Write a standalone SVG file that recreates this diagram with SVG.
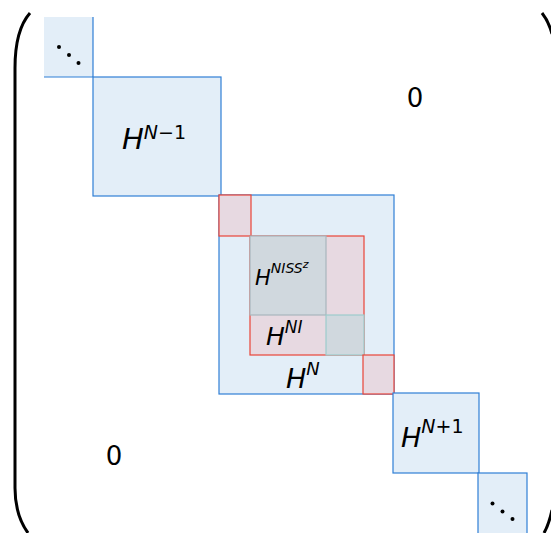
<svg xmlns="http://www.w3.org/2000/svg" width="551" height="533" viewBox="0 0 551 533">
<style>
.blk{fill:#e3eef8;stroke:#2f7fd6;stroke-width:1.2}
.red{fill:#e7d9e1;stroke:#ea4438;stroke-width:1.2}
.gry{fill:#d0d8de;stroke:#a8b6bc;stroke-width:1.2}
.m{font-family:"DejaVu Sans",sans-serif;font-style:italic;fill:#000}
.u{font-family:"DejaVu Sans",sans-serif;font-style:normal}
.z{font-family:"DejaVu Sans",sans-serif;font-size:26px;fill:#000}
.br{fill:none;stroke:#000;stroke-width:3}
</style>
<g id="brackets">
<path class="br" d="M 30 13 Q 15 30 15 68 L 15 488 Q 15 515 28 533"/>
<path class="br" d="M 542 13 Q 549 22 552 34"/>
<path class="br" d="M 544 533 Q 549 524 552 510"/>
</g>
<g id="dots-top">
<rect x="44" y="17" width="49" height="60" fill="#e3eef8"/>
<path d="M 93 17 V 77 H 44" fill="none" stroke="#2f7fd6" stroke-width="1.2"/>
<circle cx="59" cy="47" r="2"/><circle cx="69" cy="55" r="2"/><circle cx="78.5" cy="63" r="2"/>
</g>
<g id="HNm1">
<rect class="blk" x="93" y="77" width="128" height="119"/>
<text class="m" x="122" y="149" font-size="29">H<tspan font-size="19" dy="-10">N</tspan><tspan class="u" font-size="19">−1</tspan></text>
</g>
<g id="HN">
<rect class="blk" x="219" y="195" width="175" height="199"/>
<rect class="red" x="219" y="195" width="32" height="41"/>
<rect class="red" x="250" y="236" width="114" height="119"/>
<rect class="gry" x="250" y="236" width="76" height="79"/>
<rect class="gry" x="326" y="315" width="38" height="40" style="stroke:#9ccccc"/>
<rect class="red" x="363" y="355" width="31" height="39"/>
<text class="m" x="255" y="285" font-size="21">H<tspan font-size="14" dy="-12">NISS</tspan><tspan font-size="11" dy="-5">z</tspan></text>
<text class="m" x="266" y="345" font-size="25">H<tspan font-size="17" dy="-12">NI</tspan></text>
<text class="m" x="286" y="388" font-size="27">H<tspan font-size="18" dy="-13">N</tspan></text>
</g>
<g id="HNp1">
<rect class="blk" x="393" y="393" width="86" height="80"/>
<text class="m" x="401" y="447" font-size="27">H<tspan font-size="19" dy="-14">N</tspan><tspan class="u" font-size="19">+1</tspan></text>
</g>
<g id="dots-bottom">
<rect class="blk" x="478" y="473" width="49" height="65"/>
<circle cx="492.5" cy="503.5" r="2"/><circle cx="502.5" cy="511.5" r="2"/><circle cx="512.5" cy="519" r="2"/>
</g>
<g id="zeros">
<text class="z" x="415" y="107" text-anchor="middle">0</text>
<text class="z" x="114" y="465" text-anchor="middle">0</text>
</g>
<g id="connectors"/>
</svg>
